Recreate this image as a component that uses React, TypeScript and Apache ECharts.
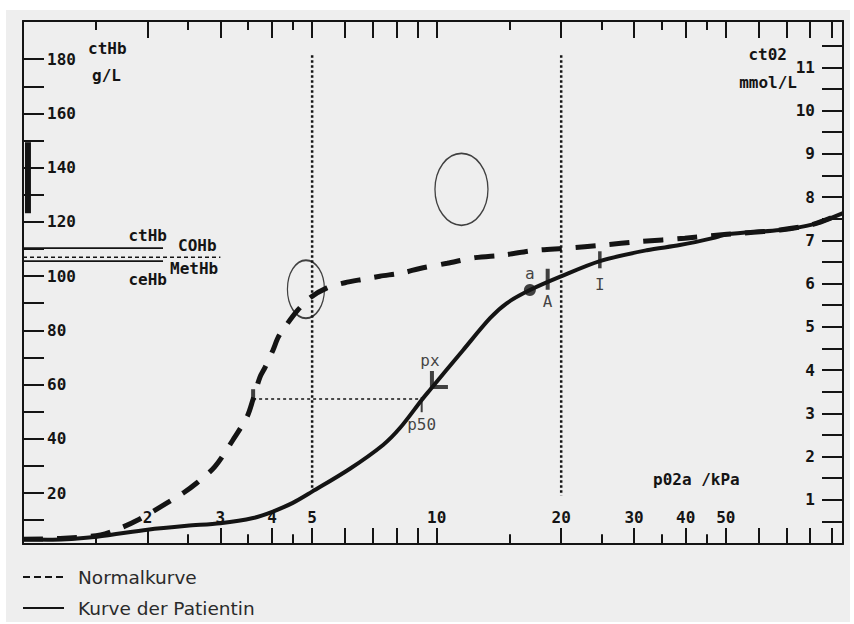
import React, { useEffect, useRef } from "react";
import * as echarts from "echarts";

// ---------- data (pO2 in kPa, ctO2 in mmol/L, ctHb in g/L) ----------
const X_MIN = 1;
const X_MAX = 96;
const X_TICKS_MAJOR = [2, 3, 4, 5, 6, 7, 8, 9, 10, 20, 30, 40, 50, 60, 70, 80, 90];
const X_TICKS_MINOR = [1.5, 2.5, 3.5, 4.5, 15, 25, 35, 45];
const X_LABELS = [2, 3, 4, 5, 10, 20, 30, 40, 50];

const HB_MIN = 1.2;
const HB_MAX = 194.1;
const HB_TICKS = [10, 20, 30, 40, 50, 60, 70, 80, 90, 100, 110, 120, 130, 140, 150, 160, 170, 180];
const HB_LABELS = [20, 40, 60, 80, 100, 120, 140, 160, 180];

const O2_MIN = -0.02;
const O2_MAX = 12.07;
const O2_TICKS = [0.5, 1, 1.5, 2, 2.5, 3, 3.5, 4, 4.5, 5, 5.5, 6, 6.5, 7, 7.5, 8, 8.5, 9, 9.5, 10, 10.5, 11, 11.5];
const O2_LABELS = [1, 2, 3, 4, 5, 6, 7, 8, 9, 10, 11];

const normalPO2 = [1.0, 1.23, 1.54, 1.72, 1.9, 2.23, 2.44, 2.63, 2.91, 3.22, 3.48, 3.6, 3.74, 3.85, 4.02, 4.14, 4.3, 4.62, 4.94, 5.43, 6.0, 6.64, 7.29, 8.29, 9.11, 10.6, 12.4, 14.5, 17.3, 20.7, 25.1, 31.0, 39.8, 50.3, 67.6, 81.2, 96];
const normalCtO2 = [0.09, 0.11, 0.19, 0.35, 0.54, 0.93, 1.16, 1.39, 1.77, 2.39, 2.92, 3.33, 3.84, 4.07, 4.46, 4.76, 5.0, 5.39, 5.67, 5.9, 6.02, 6.1, 6.17, 6.25, 6.35, 6.47, 6.6, 6.66, 6.77, 6.82, 6.89, 6.97, 7.05, 7.14, 7.24, 7.37, 7.63];

const patientPO2 = [1.0, 1.18, 1.51, 2.0, 2.49, 3.0, 3.6, 4.02, 4.49, 5.0, 6.17, 7.42, 8.15, 9.2, 9.63, 11.58, 13.46, 14.79, 16.8, 19.9, 24.8, 32.2, 38.7, 46.5, 50.3, 67.6, 81.2, 96];
const patientCtO2 = [0.09, 0.08, 0.15, 0.31, 0.4, 0.46, 0.58, 0.73, 0.93, 1.19, 1.72, 2.27, 2.66, 3.31, 3.54, 4.46, 5.2, 5.55, 5.85, 6.16, 6.52, 6.77, 6.89, 7.05, 7.14, 7.24, 7.37, 7.63];

// markers [pO2, ctO2]
const pointA_dot = [16.8, 5.85];
const pointA_bar = [18.55, 6.1];
const pointI = [24.8, 6.55];
const pointP50 = [9.2, 3.2];
const pointP50Normal = [3.6, 3.42];
const pointPx = [9.74, 3.61];
const ellipse1 = [4.83, 5.87];
const ellipse2 = [11.48, 8.18];

// reference lines
const vLine5 = [[5, 11.28], [5, 1.2]];
const vLine20 = [[20, 11.28], [20, 1.1]];
const p50Line = [[3.6, 3.33], [9.2, 3.33]];
// ctHb side (g/L)
const hbRange = [[1.028, 123.2], [1.028, 149.4]];
const ctHbLine = [[1, 110.3], [2.18, 110.3]];
const dysHbLine = [[1, 107], [3.0, 107]];
const ceHbLine = [[1, 105.5], [2.18, 105.5]];

const INK = "#141414";
const MONO = "'DejaVu Sans Mono', monospace";
const monoFont = { fontFamily: MONO, fontWeight: "bold" as const, fontSize: 16, color: INK };

const ELLIPSE = "path://M50,0 A50,50 0 1,1 50,100 A50,50 0 1,1 50,0 Z";
const LSHAPE = "path://M0,0 L4,0 L4,14 L18,14 L18,18 L0,18 Z";

const zip = (a: number[], b: number[]) => a.map((v, i) => [v, b[i]]);

export default function App() {
  const ref = useRef<HTMLDivElement>(null);
  useEffect(() => {
    if (!ref.current) return;
    const chart = echarts.init(ref.current, undefined, { renderer: "svg" });
    const axisLine = { show: true, onZero: false, lineStyle: { color: INK, width: 2 } };
    const tickStyle = { color: INK, width: 2 };
    const xBase = { type: "log", logBase: 10, min: X_MIN, max: X_MAX, splitLine: { show: false } };
    const refLine = (data: number[][], yIdx: number, style: any) => ({
      type: "line",
      xAxisIndex: 0,
      yAxisIndex: yIdx,
      data,
      symbol: "none",
      silent: true,
      lineStyle: style,
    });
    const txt = (text: string, x: number, y: number, align: string, size = 16) => ({
      type: "text",
      x,
      y,
      silent: true,
      style: { text, fontFamily: MONO, fontWeight: "bold", fontSize: size, fill: INK, align, verticalAlign: "middle" },
    });
    chart.setOption({
      animation: false,
      backgroundColor: "transparent",
      grid: { left: 23, right: 11, top: 21, bottom: 80, containLabel: false },
      legend: {
        orient: "vertical",
        left: 17,
        top: 562,
        itemWidth: 41,
        itemHeight: 20,
        itemGap: 11,
        selectedMode: false,
        data: [
          { name: "Normalkurve", lineStyle: { width: 2, type: [7, 4] }, itemStyle: { opacity: 0 } },
          { name: "Kurve der Patientin", lineStyle: { width: 2, type: "solid" }, itemStyle: { opacity: 0 } },
        ],
        textStyle: { fontFamily: "'DejaVu Sans', sans-serif", fontSize: 18.5, color: "#2a2a2a", lineHeight: 20, padding: [0, 0, 0, 9] },
      },
      xAxis: [
        {
          ...xBase,
          position: "bottom",
          axisLine,
          axisTick: { show: true, inside: true, length: 16, customValues: X_TICKS_MAJOR, lineStyle: tickStyle },
          axisLabel: { show: true, inside: true, margin: 19, customValues: X_LABELS, formatter: (v: number) => String(v), ...monoFont },
        },
        {
          ...xBase,
          position: "bottom",
          axisLine: { show: false },
          axisTick: { show: true, inside: true, length: 9, customValues: X_TICKS_MINOR, lineStyle: tickStyle },
          axisLabel: { show: false },
        },
        {
          ...xBase,
          position: "top",
          axisLine,
          axisTick: { show: true, inside: true, length: 17, customValues: X_TICKS_MAJOR, lineStyle: tickStyle },
          axisLabel: { show: false },
        },
        {
          ...xBase,
          position: "top",
          axisLine: { show: false },
          axisTick: { show: true, inside: true, length: 9, customValues: X_TICKS_MINOR, lineStyle: tickStyle },
          axisLabel: { show: false },
        },
      ],
      yAxis: [
        {
          type: "value",
          position: "left",
          min: HB_MIN,
          max: HB_MAX,
          splitLine: { show: false },
          axisLine,
          axisTick: { show: true, inside: true, length: 21, customValues: HB_TICKS, lineStyle: tickStyle },
          axisLabel: { show: true, inside: true, margin: 24, customValues: HB_LABELS, ...monoFont },
        },
        {
          type: "value",
          position: "right",
          min: O2_MIN,
          max: O2_MAX,
          splitLine: { show: false },
          axisLine,
          axisTick: { show: true, inside: true, length: 21, customValues: O2_TICKS, lineStyle: tickStyle },
          axisLabel: { show: true, inside: true, margin: 28, customValues: O2_LABELS, ...monoFont },
        },
      ],
      series: [
        {
          name: "Normalkurve",
          type: "line",
          xAxisIndex: 0,
          yAxisIndex: 1,
          data: zip(normalPO2, normalCtO2),
          smooth: 0.3,
          symbol: "none",
          showSymbol: false,
          lineStyle: { color: INK, width: 5, type: [20, 14] },
          itemStyle: { color: INK },
        },
        {
          name: "Kurve der Patientin",
          type: "line",
          xAxisIndex: 0,
          yAxisIndex: 1,
          data: zip(patientPO2, patientCtO2),
          smooth: 0.3,
          symbol: "none",
          showSymbol: false,
          lineStyle: { color: INK, width: 4 },
          itemStyle: { color: INK },
        },
        refLine(vLine5, 1, { color: INK, width: 2.5, type: [2.5, 2.5] }),
        refLine(vLine20, 1, { color: INK, width: 2.5, type: [2.5, 2.5] }),
        refLine(p50Line, 1, { color: INK, width: 1.5, type: [3, 3] }),
        refLine(hbRange, 0, { color: INK, width: 6 }),
        refLine(ctHbLine, 0, { color: INK, width: 1.8 }),
        refLine(dysHbLine, 0, { color: INK, width: 1.5, type: [4, 3] }),
        refLine(ceHbLine, 0, { color: INK, width: 1.8 }),
        {
          type: "scatter",
          xAxisIndex: 0,
          yAxisIndex: 1,
          silent: true,
          itemStyle: { color: "none", borderColor: INK, borderWidth: 1.5 },
          data: [
            { value: ellipse1, symbol: ELLIPSE, symbolSize: [37, 58] },
            { value: ellipse2, symbol: ELLIPSE, symbolSize: [53, 72] },
          ],
        },
        {
          type: "scatter",
          xAxisIndex: 0,
          yAxisIndex: 1,
          silent: true,
          itemStyle: { color: INK },
          label: { fontFamily: MONO, fontSize: 16, color: INK },
          data: [
            { value: pointA_dot, symbol: "circle", symbolSize: 12, label: { show: true, formatter: "a", position: "top", distance: 3 } },
            { value: pointA_bar, symbol: "rect", symbolSize: [4, 21], label: { show: true, formatter: "A", position: "bottom", distance: 4 } },
            { value: pointI, symbol: "rect", symbolSize: [3.5, 17], label: { show: true, formatter: "I", position: "bottom", distance: 8 } },
            { value: pointP50, symbol: "rect", symbolSize: [2, 15], label: { show: true, formatter: "p50", position: "bottom", distance: 4 } },
            { value: pointP50Normal, symbol: "rect", symbolSize: [4, 12] },
            { value: pointPx, symbol: LSHAPE, symbolSize: [18, 18], symbolOffset: [7, -7], label: { show: true, formatter: "px", position: "top", distance: 2, offset: [-9, 0] } },
          ],
        },
      ],
      graphic: [
        txt("ctHb", 88, 48, "left"),
        txt("g/L", 92, 75, "left"),
        txt("ct02", 787, 54, "right"),
        txt("mmol/L", 797, 82, "right"),
        txt("p02a /kPa", 653, 479, "left"),
        txt("ctHb", 167, 235, "right"),
        txt("COHb", 178, 245, "left"),
        txt("MetHb", 170, 268, "left"),
        txt("ceHb", 167, 279, "right"),
      ],
    });
    return () => chart.dispose();
  }, []);
  return (
    <div style={{ position: "fixed", left: 0, top: 0, width: 854, height: 624, background: "#ffffff" }}>
      <div style={{ position: "absolute", left: 6, top: 10, width: 844, height: 612, background: "#eeeeee" }} />
      <div ref={ref} style={{ position: "absolute", left: 0, top: 0, width: 854, height: 624 }} />
    </div>
  );
}
